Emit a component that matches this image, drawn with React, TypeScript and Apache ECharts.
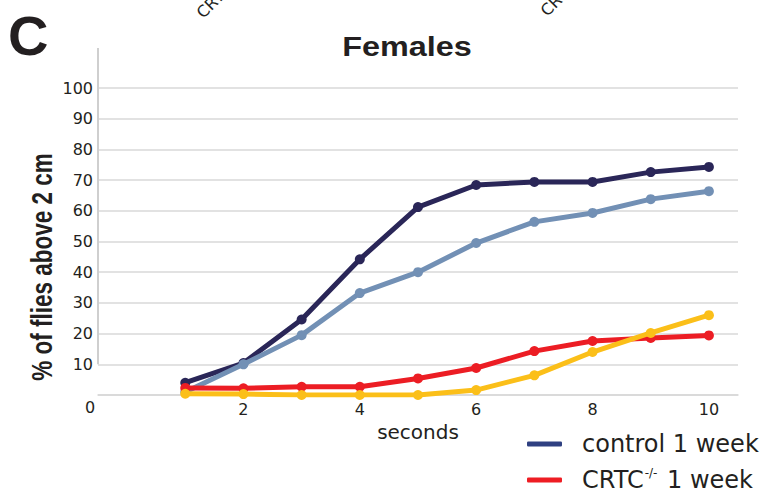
import React, { useEffect, useRef } from "react";
import * as echarts from "echarts";

// Time after the tap (s)
const seconds = [1, 2, 3, 4, 5, 6, 7, 8, 9, 10];

// % of flies above 2 cm, per genotype / age
const control1Week = [4.0, 10.4, 24.6, 44.2, 61.2, 68.4, 69.4, 69.4, 72.6, 74.3];
const control4Weeks = [1.0, 10.0, 19.5, 33.2, 40.0, 49.5, 56.4, 59.3, 63.8, 66.4];
const crtc1Week = [2.3, 2.2, 2.7, 2.7, 5.4, 8.8, 14.3, 17.6, 18.6, 19.4];
const crtc4Weeks = [0.4, 0.3, 0, 0, 0, 1.6, 6.4, 14.0, 20.2, 26.0];

const xTickValues = [2, 4, 6, 8, 10];

const seriesDefs = [
  { name: "control 1 week", values: control1Week, color: "#2a2658" },
  { name: "control 4 weeks", values: control4Weeks, color: "#7290b5" },
  { name: "CRTC-/- 1 week", values: crtc1Week, color: "#ec1d24" },
  { name: "CRTC-/- 4 weeks", values: crtc4Weeks, color: "#fbbf19" },
];

const legendEntries = [
  { name: "control 1 week", color: "#2f4081" },
  { name: "CRTC-/- 1 week", color: "#ee1d23" },
];

const INK = "#231f20";
const GRID_GRAY = "#d8d8d8";
const SANS = "DejaVu Sans";

export default function App() {
  const ref = useRef<HTMLDivElement>(null);

  useEffect(() => {
    if (!ref.current) return;
    const chart = echarts.init(ref.current, null, { renderer: "svg" });

    const option: any = {
      animation: false,
      backgroundColor: "#ffffff",
      grid: { left: 98, right: 32, top: 88, bottom: 97 },
      xAxis: {
        type: "value",
        min: -0.5,
        max: 10.5,
        axisLine: { show: true, lineStyle: { color: GRID_GRAY, width: 1.5 } },
        axisTick: { show: false },
        splitLine: { show: false },
        axisLabel: {
          customValues: xTickValues,
          color: INK,
          fontFamily: SANS,
          fontSize: 16,
          margin: 6,
        },
        name: "seconds",
        nameLocation: "middle",
        nameGap: 27,
        nameTextStyle: { color: INK, fontFamily: SANS, fontSize: 20 },
      },
      yAxis: {
        type: "value",
        min: 0,
        max: 100,
        interval: 10,
        axisLine: { show: false },
        axisTick: { show: false },
        splitLine: { lineStyle: { color: GRID_GRAY, width: 1.5 } },
        axisLabel: {
          formatter: (v: number) => (v === 0 ? "" : String(v)),
          color: INK,
          fontFamily: SANS,
          fontSize: 16,
          margin: 5,
        },
      },
      legend: {
        orient: "vertical",
        left: 527,
        top: 431,
        height: 80,
        padding: 0,
        icon: "roundRect",
        itemWidth: 35,
        itemHeight: 5,
        itemGap: 10,
        data: legendEntries.map((e) => ({ name: e.name, itemStyle: { color: e.color } })),
        formatter: (name: string) =>
          name.startsWith("CRTC-/-")
            ? "{n|CRTC}{s|-/-}{n|" + name.slice(7) + "}"
            : "{n|" + name + "}",
        textStyle: {
          color: INK,
          fontFamily: SANS,
          fontSize: 24,
          lineHeight: 26,
          padding: [0, 0, 0, 15],
          rich: {
            n: { color: INK, fontFamily: SANS, fontSize: 24, lineHeight: 26 },
            s: { color: INK, fontFamily: SANS, fontSize: 12, lineHeight: 26, verticalAlign: "top", padding: [0, 2, 0, 1] },
          },
        },
      },
      series: seriesDefs.map((s, i) => ({
        type: "line",
        name: s.name,
        data: seconds.map((x, k) => [x, s.values[k]]),
        symbol: "circle",
        symbolSize: 10,
        z: 2 + i,
        lineStyle: { color: s.color, width: 5, cap: "round", join: "round" },
        itemStyle: { color: s.color },
      })),
    };

    chart.setOption(option);

    // Vertical axis rule: runs from above the 100 line down to the 10 line
    const [axisX, yAt10] = chart.convertToPixel({ gridIndex: 0 }, [-0.5, 10]) as number[];
    const [, yTop] = chart.convertToPixel({ gridIndex: 0 }, [-0.5, 113]) as number[];

    chart.setOption({
      graphic: [
        {
          type: "line",
          shape: { x1: axisX, y1: yTop, x2: axisX, y2: yAt10 },
          style: { stroke: "#cfcfcf", lineWidth: 2 },
          z: 10,
        },
        {
          type: "text",
          x: 90,
          y: 407,
          style: { text: "0", fill: INK, font: `16px '${SANS}'`, textAlign: "center", textVerticalAlign: "middle" },
        },
        {
          type: "text",
          x: 8,
          y: 35,
          style: { text: "C", fill: INK, font: "bold 56px 'Liberation Sans'", textVerticalAlign: "middle" },
        },
        {
          type: "text",
          x: 407,
          y: 46,
          scaleX: 1.2,
          style: {
            text: "Females",
            fill: INK,
            font: "bold 27px 'Liberation Sans'",
            textAlign: "center",
            textVerticalAlign: "middle",
          },
        },
        {
          type: "text",
          x: 42,
          y: 267,
          rotation: Math.PI / 2,
          scaleX: 0.75,
          style: {
            text: "% of flies above 2 cm",
            fill: INK,
            font: "bold 30px 'Liberation Sans'",
            textAlign: "center",
            textVerticalAlign: "middle",
          },
        },
        {
          type: "text",
          x: 205,
          y: 21,
          rotation: Math.PI / 4,
          style: { text: "CRTC-/-", fill: INK, font: `16px '${SANS}'`, textVerticalAlign: "bottom" },
        },
        {
          type: "text",
          x: 549,
          y: 19,
          rotation: Math.PI / 4,
          style: { text: "CRTC-/-", fill: INK, font: `16px '${SANS}'`, textVerticalAlign: "bottom" },
        },
      ],
    });

    return () => chart.dispose();
  }, []);

  return (
    <div
      ref={ref}
      style={{ position: "absolute", left: 0, top: 0, width: 770, height: 492 }}
    />
  );
}
